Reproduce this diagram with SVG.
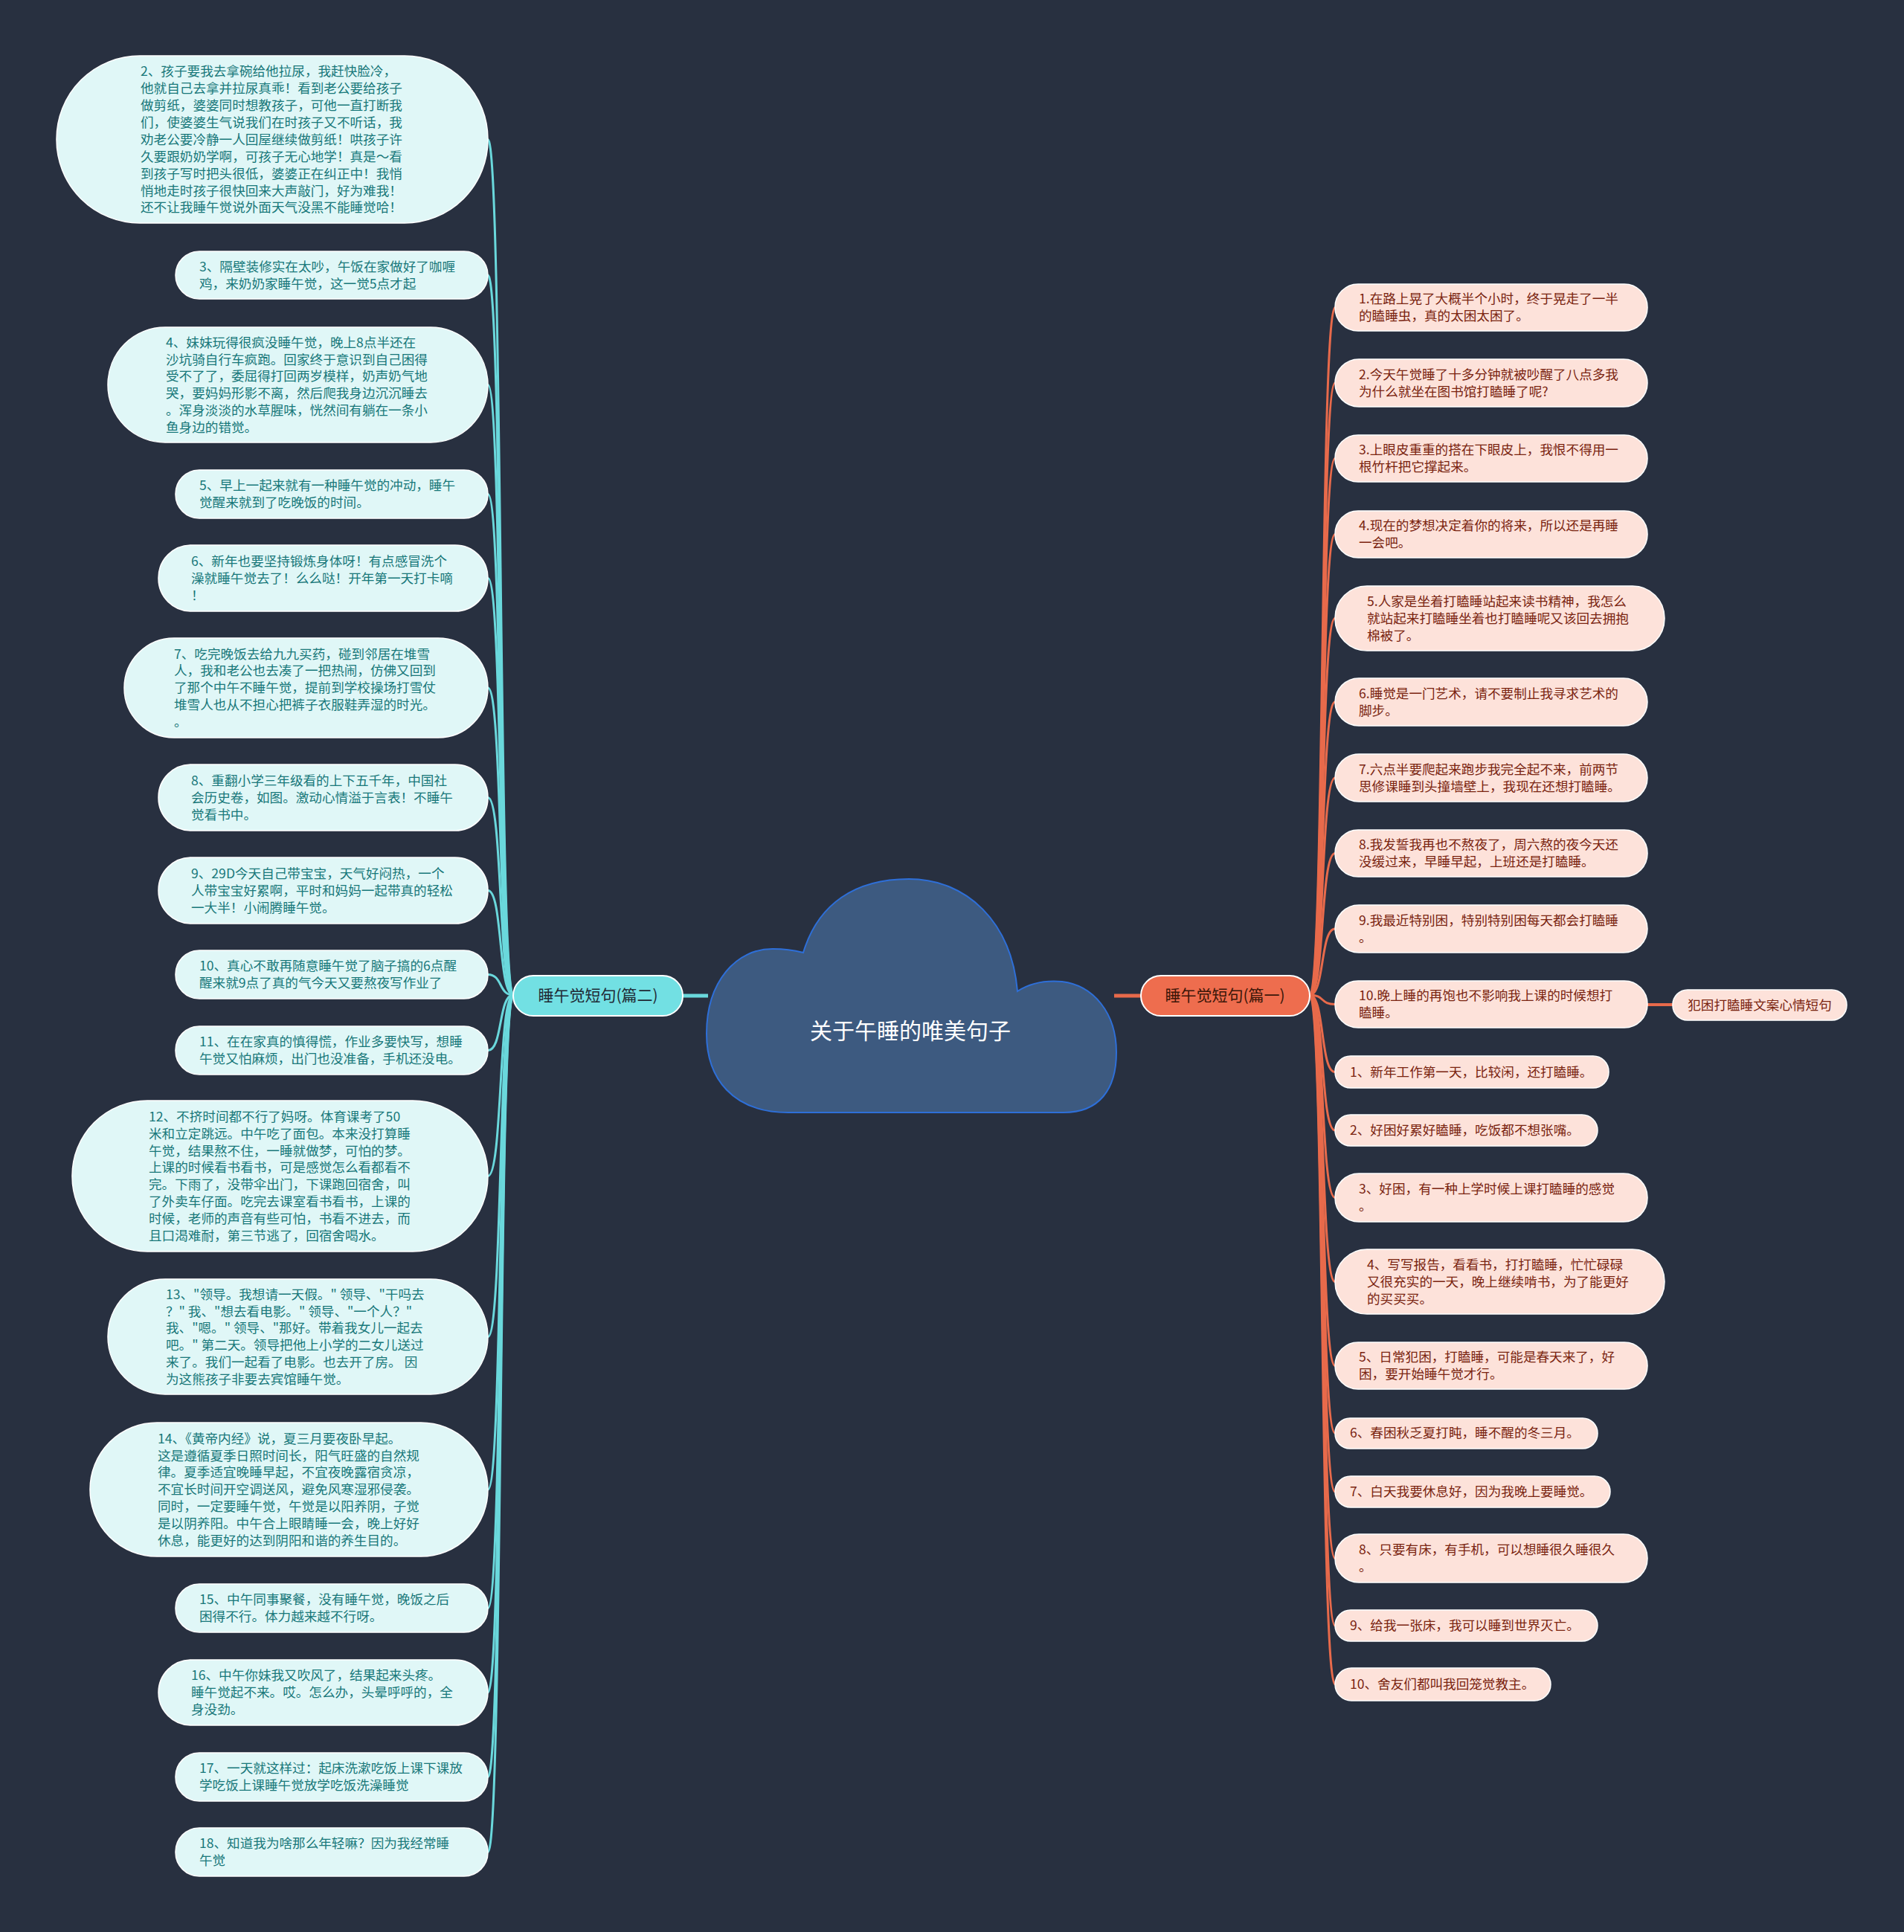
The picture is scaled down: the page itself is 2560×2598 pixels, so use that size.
<svg xmlns="http://www.w3.org/2000/svg" width="2560" height="2598" viewBox="0 0 2560 2598">
<style>
text { font-family: "Noto Sans CJK SC", "Noto Sans", "Liberation Sans", sans-serif; }
.ll rect { fill: #e0f7f7; stroke: #ffffff; stroke-width: 1.5; }
.ll text { fill: #18787a; font-size: 17.6px; }
.rl rect { fill: #fde2da; stroke: #ffffff; stroke-width: 1.5; }
.rl text { fill: #7a2410; font-size: 17.6px; }
.lc { fill: none; stroke: #6ad8dc; stroke-width: 3; }
.rc { fill: none; stroke: #e86a4b; stroke-width: 3; }
</style>
<rect x="0" y="0" width="2560" height="2598" fill="#283040"/>

<g id="connectors">
  <line x1="918" y1="1339" x2="952" y2="1339" stroke="#6ad8dc" stroke-width="5"/>
  <line x1="1498" y1="1339" x2="1534" y2="1339" stroke="#e86a4b" stroke-width="5"/>
  <path class="lc" d="M690 1338 C670 1338 676 187.5 656 187.5"/>
  <path class="lc" d="M690 1338 C670 1338 676 370 656 370"/>
  <path class="lc" d="M690 1338 C670 1338 676 517.5 656 517.5"/>
  <path class="lc" d="M690 1338 C670 1338 676 664.5 656 664.5"/>
  <path class="lc" d="M690 1338 C670 1338 676 777.5 656 777.5"/>
  <path class="lc" d="M690 1338 C670 1338 676 925 656 925"/>
  <path class="lc" d="M690 1338 C670 1338 676 1072.5 656 1072.5"/>
  <path class="lc" d="M690 1338 C670 1338 676 1197.5 656 1197.5"/>
  <path class="lc" d="M690 1338 C670 1338 676 1310.5 656 1310.5"/>
  <path class="lc" d="M690 1338 C670 1338 676 1412.5 656 1412.5"/>
  <path class="lc" d="M690 1338 C670 1338 676 1581.5 656 1581.5"/>
  <path class="lc" d="M690 1338 C670 1338 676 1797.5 656 1797.5"/>
  <path class="lc" d="M690 1338 C670 1338 676 2003 656 2003"/>
  <path class="lc" d="M690 1338 C670 1338 676 2162.5 656 2162.5"/>
  <path class="lc" d="M690 1338 C670 1338 676 2276 656 2276"/>
  <path class="lc" d="M690 1338 C670 1338 676 2389.5 656 2389.5"/>
  <path class="lc" d="M690 1338 C670 1338 676 2490.5 656 2490.5"/>

  <path class="rc" d="M1761 1338 C1781 1338 1775 413.5 1795 413.5"/>
  <path class="rc" d="M1761 1338 C1781 1338 1775 515 1795 515"/>
  <path class="rc" d="M1761 1338 C1781 1338 1775 616.5 1795 616.5"/>
  <path class="rc" d="M1761 1338 C1781 1338 1775 718.5 1795 718.5"/>
  <path class="rc" d="M1761 1338 C1781 1338 1775 831.5 1795 831.5"/>
  <path class="rc" d="M1761 1338 C1781 1338 1775 944 1795 944"/>
  <path class="rc" d="M1761 1338 C1781 1338 1775 1046 1795 1046"/>
  <path class="rc" d="M1761 1338 C1781 1338 1775 1147.5 1795 1147.5"/>
  <path class="rc" d="M1761 1338 C1781 1338 1775 1249 1795 1249"/>
  <path class="rc" d="M1761 1338 C1781 1338 1775 1350.5 1795 1350.5"/>
  <path class="rc" d="M1761 1338 C1781 1338 1775 1441.5 1795 1441.5"/>
  <path class="rc" d="M1761 1338 C1781 1338 1775 1520 1795 1520"/>
  <path class="rc" d="M1761 1338 C1781 1338 1775 1610.5 1795 1610.5"/>
  <path class="rc" d="M1761 1338 C1781 1338 1775 1723.5 1795 1723.5"/>
  <path class="rc" d="M1761 1338 C1781 1338 1775 1836.5 1795 1836.5"/>
  <path class="rc" d="M1761 1338 C1781 1338 1775 1927 1795 1927"/>
  <path class="rc" d="M1761 1338 C1781 1338 1775 2006 1795 2006"/>
  <path class="rc" d="M1761 1338 C1781 1338 1775 2095.5 1795 2095.5"/>
  <path class="rc" d="M1761 1338 C1781 1338 1775 2186 1795 2186"/>
  <path class="rc" d="M1761 1338 C1781 1338 1775 2265 1795 2265"/>
  <line x1="2214" y1="1351" x2="2249" y2="1351" stroke="#e86a4b" stroke-width="4"/>
</g>

<g id="root">
  <path d="M1060 1496 C985 1496 950 1450 950 1390 C950 1320 990 1275 1040 1276 C1058 1276 1072 1279 1080 1281 C1100 1215 1150 1182 1222 1182 C1300 1182 1360 1240 1368 1333 C1385 1322 1405 1318 1428 1320 C1470 1325 1501 1362 1501 1415 C1501 1465 1478 1496 1430 1496 Z" fill="#3d5a80" stroke="#2e6fd8" stroke-width="2"/>
  <text x="1224" y="1397" text-anchor="middle" fill="#ffffff" font-size="30">关于午睡的唯美句子</text>
</g>

<g id="branch-left">
  <rect x="690" y="1312" width="228" height="54" rx="27" fill="#72e0e3" stroke="#ffffff" stroke-width="2"/>
  <text x="804" y="1346" text-anchor="middle" fill="#1f2a35" font-size="21">睡午觉短句(篇二)</text>
</g>
<g id="branch-right">
  <rect x="1534" y="1312" width="227" height="54" rx="27" fill="#ee6d4e" stroke="#ffffff" stroke-width="2"/>
  <text x="1647" y="1346" text-anchor="middle" fill="#3b1608" font-size="21">睡午觉短句(篇一)</text>
</g>

<g id="l2" class="ll"><rect x="76" y="75" width="580" height="225" rx="112"/>
<text x="189" y="102.2"><tspan x="189">2、孩子要我去拿碗给他拉尿，我赶快脸冷，</tspan><tspan x="189" dy="22.9">他就自己去拿并拉尿真乖！看到老公要给孩子</tspan><tspan x="189" dy="22.9">做剪纸，婆婆同时想教孩子，可他一直打断我</tspan><tspan x="189" dy="22.9">们，使婆婆生气说我们在时孩子又不听话，我</tspan><tspan x="189" dy="22.9">劝老公要冷静一人回屋继续做剪纸！哄孩子许</tspan><tspan x="189" dy="22.9">久要跟奶奶学啊，可孩子无心地学！真是～看</tspan><tspan x="189" dy="22.9">到孩子写时把头很低，婆婆正在纠正中！我悄</tspan><tspan x="189" dy="22.9">悄地走时孩子很快回来大声敲门，好为难我！</tspan><tspan x="189" dy="22.9">还不让我睡午觉说外面天气没黑不能睡觉哈！</tspan></text></g>

<g id="l3" class="ll"><rect x="236" y="338" width="420" height="64" rx="32"/>
<text x="268" y="364.9"><tspan x="268">3、隔壁装修实在太吵，午饭在家做好了咖喱</tspan><tspan x="268" dy="22.9">鸡，来奶奶家睡午觉，这一觉5点才起</tspan></text></g>

<g id="l4" class="ll"><rect x="145" y="440" width="511" height="155" rx="77"/>
<text x="223" y="466.6"><tspan x="223">4、妹妹玩得很疯没睡午觉，晚上8点半还在</tspan><tspan x="223" dy="22.9">沙坑骑自行车疯跑。回家终于意识到自己困得</tspan><tspan x="223" dy="22.9">受不了了，委屈得打回两岁模样，奶声奶气地</tspan><tspan x="223" dy="22.9">哭，要妈妈形影不离，然后爬我身边沉沉睡去</tspan><tspan x="223" dy="22.9">。浑身淡淡的水草腥味，恍然间有躺在一条小</tspan><tspan x="223" dy="22.9">鱼身边的错觉。</tspan></text></g>

<g id="l5" class="ll"><rect x="236" y="632" width="420" height="65" rx="32"/>
<text x="268" y="659.4"><tspan x="268">5、早上一起来就有一种睡午觉的冲动，睡午</tspan><tspan x="268" dy="22.9">觉醒来就到了吃晚饭的时间。</tspan></text></g>

<g id="l6" class="ll"><rect x="213" y="733" width="443" height="89" rx="44"/>
<text x="257" y="760.9"><tspan x="257">6、新年也要坚持锻炼身体呀！有点感冒洗个</tspan><tspan x="257" dy="22.9">澡就睡午觉去了！么么哒！开年第一天打卡嘀</tspan><tspan x="257" dy="22.9">！</tspan></text></g>

<g id="l7" class="ll"><rect x="167" y="858" width="489" height="134" rx="67"/>
<text x="234" y="885.5"><tspan x="234">7、吃完晚饭去给九九买药，碰到邻居在堆雪</tspan><tspan x="234" dy="22.9">人，我和老公也去凑了一把热闹，仿佛又回到</tspan><tspan x="234" dy="22.9">了那个中午不睡午觉，提前到学校操场打雪仗</tspan><tspan x="234" dy="22.9">堆雪人也从不担心把裤子衣服鞋弄湿的时光。</tspan><tspan x="234" dy="22.9">。</tspan></text></g>

<g id="l8" class="ll"><rect x="213" y="1028" width="443" height="89" rx="44"/>
<text x="257" y="1055.9"><tspan x="257">8、重翻小学三年级看的上下五千年，中国社</tspan><tspan x="257" dy="22.9">会历史卷，如图。激动心情溢于言表！不睡午</tspan><tspan x="257" dy="22.9">觉看书中。</tspan></text></g>

<g id="l9" class="ll"><rect x="213" y="1153" width="443" height="89" rx="44"/>
<text x="257" y="1180.9"><tspan x="257">9、29D今天自己带宝宝，天气好闷热，一个</tspan><tspan x="257" dy="22.9">人带宝宝好累啊，平时和妈妈一起带真的轻松</tspan><tspan x="257" dy="22.9">一大半！小闹腾睡午觉。</tspan></text></g>

<g id="l10" class="ll"><rect x="236" y="1278" width="420" height="65" rx="32"/>
<text x="268" y="1305.4"><tspan x="268">10、真心不敢再随意睡午觉了脑子搞的6点醒</tspan><tspan x="268" dy="22.9">醒来就9点了真的气今天又要熬夜写作业了</tspan></text></g>

<g id="l11" class="ll"><rect x="236" y="1380" width="420" height="65" rx="32"/>
<text x="268" y="1407.4"><tspan x="268">11、在在家真的慎得慌，作业多要快写，想睡</tspan><tspan x="268" dy="22.9">午觉又怕麻烦，出门也没准备，手机还没电。</tspan></text></g>

<g id="l12" class="ll"><rect x="97" y="1480" width="559" height="203" rx="101"/>
<text x="200" y="1507.7"><tspan x="200">12、不挤时间都不行了妈呀。体育课考了50</tspan><tspan x="200" dy="22.9">米和立定跳远。中午吃了面包。本来没打算睡</tspan><tspan x="200" dy="22.9">午觉，结果熬不住，一睡就做梦，可怕的梦。</tspan><tspan x="200" dy="22.9">上课的时候看书看书，可是感觉怎么看都看不</tspan><tspan x="200" dy="22.9">完。下雨了，没带伞出门，下课跑回宿舍，叫</tspan><tspan x="200" dy="22.9">了外卖车仔面。吃完去课室看书看书，上课的</tspan><tspan x="200" dy="22.9">时候，老师的声音有些可怕，书看不进去，而</tspan><tspan x="200" dy="22.9">且口渴难耐，第三节逃了，回宿舍喝水。</tspan></text></g>

<g id="l13" class="ll"><rect x="145" y="1720" width="511" height="155" rx="77"/>
<text x="223" y="1746.6"><tspan x="223">13、"领导。我想请一天假。" 领导、"干吗去</tspan><tspan x="223" dy="22.9">？" 我、"想去看电影。" 领导、"一个人？"</tspan><tspan x="223" dy="22.9">我、"嗯。" 领导、"那好。带着我女儿一起去</tspan><tspan x="223" dy="22.9">吧。" 第二天。领导把他上小学的二女儿送过</tspan><tspan x="223" dy="22.9">来了。我们一起看了电影。也去开了房。 因</tspan><tspan x="223" dy="22.9">为这熊孩子非要去宾馆睡午觉。</tspan></text></g>

<g id="l14" class="ll"><rect x="121" y="1913" width="535" height="180" rx="90"/>
<text x="212" y="1940.6"><tspan x="212">14、《黄帝内经》说，夏三月要夜卧早起。</tspan><tspan x="212" dy="22.9">这是遵循夏季日照时间长，阳气旺盛的自然规</tspan><tspan x="212" dy="22.9">律。夏季适宜晚睡早起，不宜夜晚露宿贪凉，</tspan><tspan x="212" dy="22.9">不宜长时间开空调送风，避免风寒湿邪侵袭。</tspan><tspan x="212" dy="22.9">同时，一定要睡午觉，午觉是以阳养阴，子觉</tspan><tspan x="212" dy="22.9">是以阴养阳。中午合上眼睛睡一会，晚上好好</tspan><tspan x="212" dy="22.9">休息，能更好的达到阴阳和谐的养生目的。</tspan></text></g>

<g id="l15" class="ll"><rect x="236" y="2130" width="420" height="65" rx="32"/>
<text x="268" y="2157.4"><tspan x="268">15、中午同事聚餐，没有睡午觉，晚饭之后</tspan><tspan x="268" dy="22.9">困得不行。体力越来越不行呀。</tspan></text></g>

<g id="l16" class="ll"><rect x="213" y="2232" width="443" height="88" rx="44"/>
<text x="257" y="2259.4"><tspan x="257">16、中午你妹我又吹风了，结果起来头疼。</tspan><tspan x="257" dy="22.9">睡午觉起不来。哎。怎么办，头晕呼呼的，全</tspan><tspan x="257" dy="22.9">身没劲。</tspan></text></g>

<g id="l17" class="ll"><rect x="236" y="2357" width="420" height="65" rx="32"/>
<text x="268" y="2384.4"><tspan x="268">17、一天就这样过：起床洗漱吃饭上课下课放</tspan><tspan x="268" dy="22.9">学吃饭上课睡午觉放学吃饭洗澡睡觉</tspan></text></g>

<g id="l18" class="ll"><rect x="236" y="2458" width="420" height="65" rx="32"/>
<text x="268" y="2485.4"><tspan x="268">18、知道我为啥那么年轻嘛？因为我经常睡</tspan><tspan x="268" dy="22.9">午觉</tspan></text></g>

<g id="r1" class="rl"><rect x="1795" y="382" width="420" height="63" rx="31"/>
<text x="1827" y="408.3"><tspan x="1827">1.在路上晃了大概半个小时，终于晃走了一半</tspan><tspan x="1827" dy="23">的瞌睡虫，真的太困太困了。</tspan></text></g>
<g id="r2" class="rl"><rect x="1795" y="483" width="420" height="64" rx="32"/>
<text x="1827" y="509.8"><tspan x="1827">2.今天午觉睡了十多分钟就被吵醒了八点多我</tspan><tspan x="1827" dy="23">为什么就坐在图书馆打瞌睡了呢?</tspan></text></g>
<g id="r3" class="rl"><rect x="1795" y="585" width="420" height="63" rx="31"/>
<text x="1827" y="611.3"><tspan x="1827">3.上眼皮重重的搭在下眼皮上，我恨不得用一</tspan><tspan x="1827" dy="23">根竹杆把它撑起来。</tspan></text></g>
<g id="r4" class="rl"><rect x="1795" y="687" width="420" height="63" rx="31"/>
<text x="1827" y="713.3"><tspan x="1827">4.现在的梦想决定着你的将来，所以还是再睡</tspan><tspan x="1827" dy="23">一会吧。</tspan></text></g>
<g id="r5" class="rl"><rect x="1795" y="788" width="443" height="87" rx="43"/>
<text x="1838" y="814.8"><tspan x="1838">5.人家是坐着打瞌睡站起来读书精神，我怎么</tspan><tspan x="1838" dy="23">就站起来打瞌睡坐着也打瞌睡呢又该回去拥抱</tspan><tspan x="1838" dy="23">棉被了。</tspan></text></g>
<g id="r6" class="rl"><rect x="1795" y="912" width="420" height="64" rx="32"/>
<text x="1827" y="938.8"><tspan x="1827">6.睡觉是一门艺术，请不要制止我寻求艺术的</tspan><tspan x="1827" dy="23">脚步。</tspan></text></g>
<g id="r7" class="rl"><rect x="1795" y="1014" width="420" height="64" rx="32"/>
<text x="1827" y="1040.8"><tspan x="1827">7.六点半要爬起来跑步我完全起不来，前两节</tspan><tspan x="1827" dy="23">思修课睡到头撞墙壁上，我现在还想打瞌睡。</tspan></text></g>
<g id="r8" class="rl"><rect x="1795" y="1116" width="420" height="63" rx="31"/>
<text x="1827" y="1142.3"><tspan x="1827">8.我发誓我再也不熬夜了，周六熬的夜今天还</tspan><tspan x="1827" dy="23">没缓过来，早睡早起，上班还是打瞌睡。</tspan></text></g>
<g id="r9" class="rl"><rect x="1795" y="1217" width="420" height="64" rx="32"/>
<text x="1827" y="1243.8"><tspan x="1827">9.我最近特别困，特别特别困每天都会打瞌睡</tspan><tspan x="1827" dy="23">。</tspan></text></g>
<g id="r10" class="rl"><rect x="1795" y="1319" width="420" height="63" rx="31"/>
<text x="1827" y="1345.3"><tspan x="1827">10.晚上睡的再饱也不影响我上课的时候想打</tspan><tspan x="1827" dy="23">瞌睡。</tspan></text></g>
<g id="r10a" class="rl"><rect x="2249" y="1331" width="234" height="41" rx="20"/>
<text x="2366" y="1357.8" text-anchor="middle">犯困打瞌睡文案心情短句</text></g>
<g id="r11" class="rl"><rect x="1795" y="1420" width="368" height="43" rx="21"/>
<text x="1815" y="1447.8">1、新年工作第一天，比较闲，还打瞌睡。</text></g>
<g id="r12" class="rl"><rect x="1795" y="1499" width="353" height="42" rx="21"/>
<text x="1815" y="1526.3">2、好困好累好瞌睡，吃饭都不想张嘴。</text></g>
<g id="r13" class="rl"><rect x="1795" y="1578" width="420" height="65" rx="32"/>
<text x="1827" y="1605.3"><tspan x="1827">3、好困，有一种上学时候上课打瞌睡的感觉</tspan><tspan x="1827" dy="23">。</tspan></text></g>
<g id="r14" class="rl"><rect x="1795" y="1680" width="443" height="87" rx="43"/>
<text x="1838" y="1706.8"><tspan x="1838">4、写写报告，看看书，打打瞌睡，忙忙碌碌</tspan><tspan x="1838" dy="23">又很充实的一天，晚上继续啃书，为了能更好</tspan><tspan x="1838" dy="23">的买买买。</tspan></text></g>
<g id="r15" class="rl"><rect x="1795" y="1805" width="420" height="63" rx="31"/>
<text x="1827" y="1831.3"><tspan x="1827">5、日常犯困，打瞌睡，可能是春天来了，好</tspan><tspan x="1827" dy="23">困，要开始睡午觉才行。</tspan></text></g>
<g id="r16" class="rl"><rect x="1795" y="1907" width="353" height="41" rx="20"/>
<text x="1815" y="1933.3">6、春困秋乏夏打盹，睡不醒的冬三月。</text></g>
<g id="r17" class="rl"><rect x="1795" y="1985" width="370" height="42" rx="21"/>
<text x="1815" y="2012.3">7、白天我要休息好，因为我晚上要睡觉。</text></g>
<g id="r18" class="rl"><rect x="1795" y="2063" width="420" height="65" rx="32"/>
<text x="1827" y="2090.3"><tspan x="1827">8、只要有床，有手机，可以想睡很久睡很久</tspan><tspan x="1827" dy="23">。</tspan></text></g>
<g id="r19" class="rl"><rect x="1795" y="2165" width="353" height="42" rx="21"/>
<text x="1815" y="2192.3">9、给我一张床，我可以睡到世界灭亡。</text></g>
<g id="r20" class="rl"><rect x="1795" y="2243" width="290" height="44" rx="22"/>
<text x="1815" y="2271.3">10、舍友们都叫我回笼觉教主。</text></g>
</svg>
